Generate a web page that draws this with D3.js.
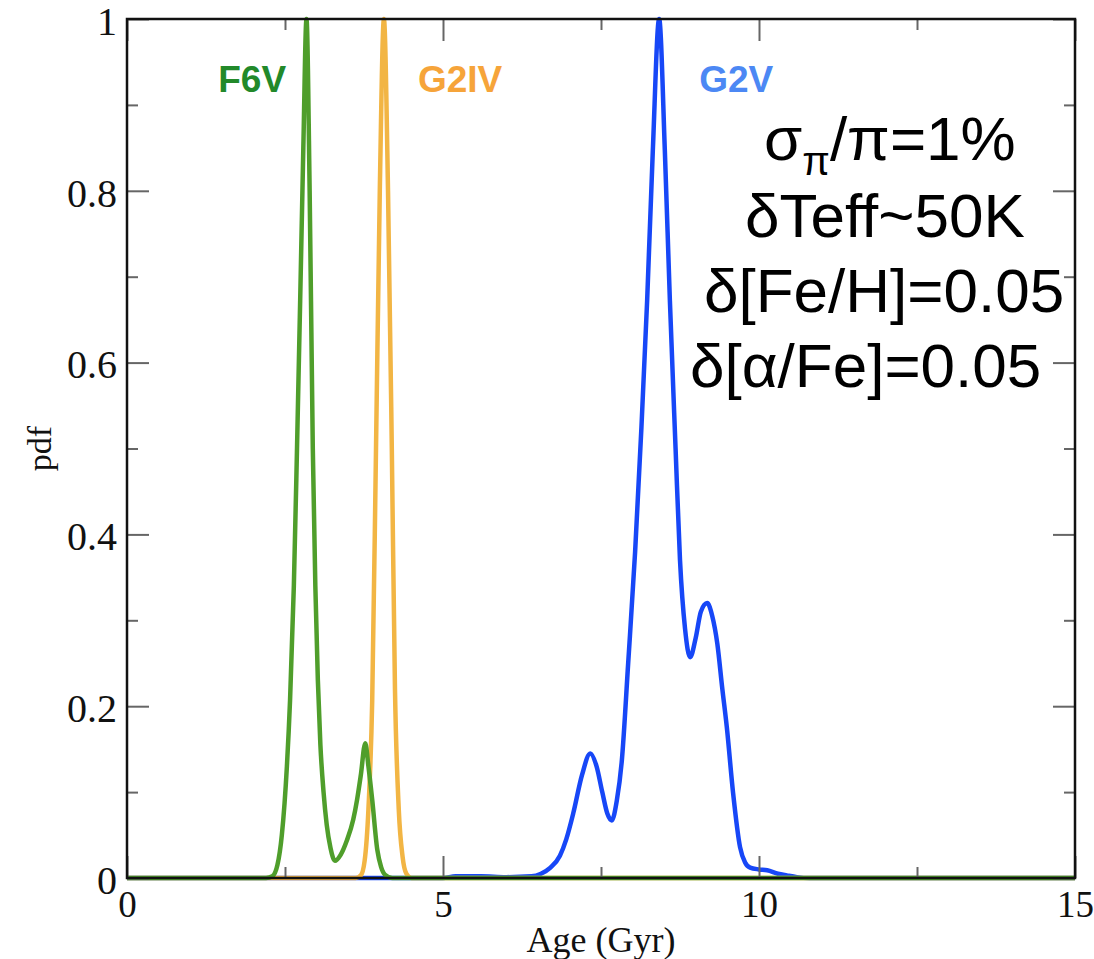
<!DOCTYPE html>
<html>
<head>
<meta charset="utf-8">
<script src="https://cdn.jsdelivr.net/npm/d3@7"></script>
<style>
  html, body { margin: 0; padding: 0; background: #fff; }
  svg { display: block; }
</style>
</head>
<body>
<svg id="chart" width="1094" height="959"></svg>
<script>
// Age posterior PDFs for three stellar types
const f6vAge = [0, 2.2, 2.3, 2.38, 2.45, 2.53, 2.58, 2.64, 2.69, 2.74, 2.79, 2.84, 2.89, 2.94, 2.98, 3.02, 3.06, 3.11, 3.16, 3.22, 3.29, 3.38, 3.48, 3.58, 3.64, 3.7, 3.77, 3.82, 3.88, 3.96, 4.02, 4.08, 4.2, 15];
const f6vPdf = [0, 0, 0.002, 0.015, 0.05, 0.13, 0.207, 0.34, 0.5, 0.672, 0.85, 1.0, 0.8, 0.5, 0.34, 0.23, 0.155, 0.1, 0.062, 0.035, 0.02, 0.027, 0.044, 0.068, 0.091, 0.12, 0.157, 0.13, 0.091, 0.033, 0.013, 0.004, 0, 0];

const g2ivAge = [0, 3.62, 3.7, 3.76, 3.82, 3.88, 3.94, 4.0, 4.065, 4.13, 4.19, 4.24, 4.3, 4.36, 4.42, 4.5, 15];
const g2ivPdf = [0, 0, 0.003, 0.02, 0.08, 0.207, 0.5, 0.8, 1.0, 0.8, 0.5, 0.22, 0.08, 0.025, 0.005, 0, 0];

const g2vAge = [0, 5.0, 5.2, 5.6, 6.0, 6.4, 6.55, 6.7, 6.85, 6.95, 7.06, 7.2, 7.33, 7.43, 7.52, 7.6, 7.67, 7.75, 7.83, 7.93, 8.04, 8.14, 8.23, 8.32, 8.42, 8.51, 8.59, 8.68, 8.75, 8.83, 8.91, 9.0, 9.08, 9.18, 9.26, 9.34, 9.42, 9.49, 9.59, 9.7, 9.78, 9.86, 10.0, 10.13, 10.3, 10.44, 10.6, 10.8, 15];
const g2vPdf = [0, 0, 0.002, 0.002, 0.001, 0.002, 0.005, 0.012, 0.026, 0.045, 0.075, 0.12, 0.145, 0.13, 0.1, 0.075, 0.067, 0.09, 0.137, 0.25, 0.38, 0.525, 0.672, 0.847, 1.0, 0.847, 0.672, 0.5, 0.37, 0.29, 0.257, 0.28, 0.31, 0.32, 0.305, 0.273, 0.22, 0.176, 0.099, 0.036, 0.018, 0.012, 0.01, 0.009, 0.005, 0.003, 0.001, 0, 0];

const seriesNames = ["G2V", "G2IV", "F6V"];
const seriesColors = { "F6V": "#4f9e2b", "G2IV": "#f2b544", "G2V": "#1747f7" };
const labelColors = { "F6V": "#22892a", "G2IV": "#f6a43a", "G2V": "#4c88f4" };
const labelAges = { "F6V": 1.98, "G2IV": 5.27, "G2V": 9.64 };

const xMajor = [0, 5, 10, 15];
const xMinor = [2.5, 7.5, 12.5];
const yMajor = [0, 0.2, 0.4, 0.6, 0.8, 1];
const yMinor = [0.1, 0.3, 0.5, 0.7, 0.9];
const yTickLabels = ["0", "0.2", "0.4", "0.6", "0.8", "1"];

const annotationLines = ["δTeff~50K", "δ[Fe/H]=0.05", "δ[α/Fe]=0.05"];

const svg = d3.select("#chart");
const L = 127, R = 1075, T = 19, B = 878;
const x = d3.scaleLinear().domain([0, 15]).range([L, R]);
const y = d3.scaleLinear().domain([0, 1]).range([B, T]);

const series = {
  "F6V": f6vAge.map((a, i) => [a, f6vPdf[i]]),
  "G2IV": g2ivAge.map((a, i) => [a, g2ivPdf[i]]),
  "G2V": g2vAge.map((a, i) => [a, g2vPdf[i]])
};

const line = d3.line().x(d => x(d[0])).y(d => y(d[1])).curve(d3.curveMonotoneX);

// Curves
seriesNames.forEach(name => {
  svg.append("path")
    .datum(series[name])
    .attr("d", line)
    .attr("fill", "none")
    .attr("stroke", seriesColors[name])
    .attr("stroke-width", 4.5)
    .attr("stroke-linejoin", "round");
});

// Inward ticks on all four sides
const tickColor = "#666";
const majorLen = 22, minorLen = 11;
const serif = "Liberation Serif, Times New Roman, serif";
const axes = svg.append("g");

function styleTicks(g) {
  g.select(".domain").remove();
  g.selectAll("line").attr("stroke", tickColor).attr("stroke-width", 2);
  return g;
}

const gB = styleTicks(axes.append("g").attr("transform", `translate(0,${B})`)
  .call(d3.axisBottom(x).tickValues(xMajor).tickSize(-majorLen).tickFormat(d3.format("d")).tickPadding(12)));
gB.selectAll("text").attr("font-family", serif).attr("font-size", 37).attr("fill", "#111").attr("dy", "0.72em");
styleTicks(axes.append("g").attr("transform", `translate(0,${B})`)
  .call(d3.axisBottom(x).tickValues(xMinor).tickSize(-minorLen).tickFormat("")));

styleTicks(axes.append("g").attr("transform", `translate(0,${T})`)
  .call(d3.axisTop(x).tickValues(xMajor).tickSize(-majorLen).tickFormat("")));
styleTicks(axes.append("g").attr("transform", `translate(0,${T})`)
  .call(d3.axisTop(x).tickValues(xMinor).tickSize(-minorLen).tickFormat("")));

const gL = styleTicks(axes.append("g").attr("transform", `translate(${L},0)`)
  .call(d3.axisLeft(y).tickValues(yMajor).tickSize(-majorLen).tickPadding(10).tickFormat((d, i) => yTickLabels[i])));
gL.selectAll("text").attr("font-family", serif).attr("font-size", 40).attr("fill", "#111").attr("dy", "0.38em");
styleTicks(axes.append("g").attr("transform", `translate(${L},0)`)
  .call(d3.axisLeft(y).tickValues(yMinor).tickSize(-minorLen).tickFormat("")));

styleTicks(axes.append("g").attr("transform", `translate(${R},0)`)
  .call(d3.axisRight(y).tickValues(yMajor).tickSize(-majorLen).tickFormat("")));
styleTicks(axes.append("g").attr("transform", `translate(${R},0)`)
  .call(d3.axisRight(y).tickValues(yMinor).tickSize(-minorLen).tickFormat("")));

// Frame
svg.append("rect")
  .attr("x", L).attr("y", T).attr("width", R - L).attr("height", B - T)
  .attr("fill", "none").attr("stroke", "#111").attr("stroke-width", 2.5);

// Axis titles
svg.append("text")
  .attr("x", x(7.5)).attr("y", 952)
  .attr("text-anchor", "middle")
  .attr("font-family", serif)
  .attr("font-size", 36).attr("fill", "#111")
  .text("Age (Gyr)");
svg.append("text")
  .attr("transform", `translate(51,${y(0.5)}) rotate(-90)`)
  .attr("text-anchor", "middle")
  .attr("font-family", serif)
  .attr("font-size", 34).attr("fill", "#111")
  .text("pdf");

// Series labels
seriesNames.forEach(name => {
  svg.append("text")
    .attr("x", x(labelAges[name])).attr("y", 92)
    .attr("text-anchor", "middle")
    .attr("font-family", "Liberation Sans, Arial, sans-serif")
    .attr("font-weight", "bold")
    .attr("font-size", 37)
    .attr("fill", labelColors[name])
    .text(name);
});

// Observational uncertainties
const ann = svg.append("g")
  .attr("font-family", "Liberation Sans, Arial, sans-serif")
  .attr("font-size", 62).attr("fill", "#000");
const first = ann.append("text").attr("x", 764).attr("y", 160);
first.append("tspan").text("σ");
first.append("tspan").attr("font-size", 40).attr("dy", 15).text("π");
first.append("tspan").attr("dy", -15).text("/π=1%");
const lineStarts = [745, 704, 690];
const lineBaselines = [237, 312, 387];
annotationLines.forEach((t, i) => {
  ann.append("text").attr("x", lineStarts[i]).attr("y", lineBaselines[i]).text(t);
});
</script>
</body>
</html>
